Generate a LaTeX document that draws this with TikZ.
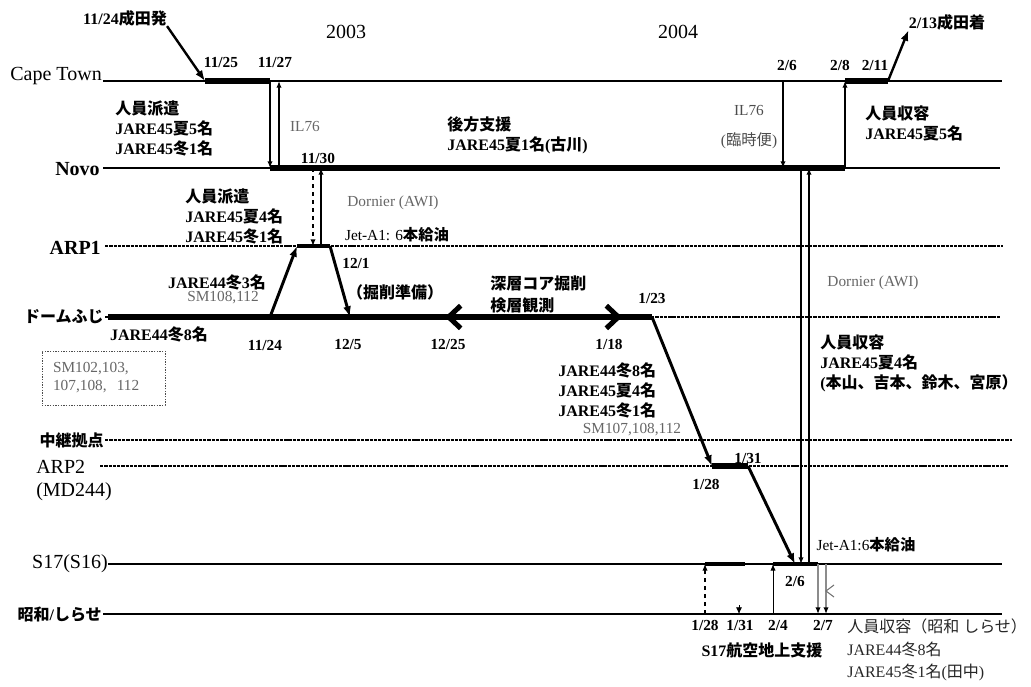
\documentclass[tikz,border=0pt]{standalone}
\usepackage{fontspec}
\setmainfont{Liberation Serif}
\newfontfamily\jpfont{Noto Sans CJK JP}
\usetikzlibrary{arrows.meta}
\XeTeXinterchartokenstate=1
\newXeTeXintercharclass\jpclass
\newcount\jpcc
\jpcc="3000
\loop\XeTeXcharclass\jpcc=\jpclass\advance\jpcc by 1\relax\ifnum\jpcc<"A000\repeat
\jpcc="FF00
\loop\XeTeXcharclass\jpcc=\jpclass\advance\jpcc by 1\relax\ifnum\jpcc<"FFF0\repeat
\jpcc=33
\loop\XeTeXcharclass\jpcc=0\advance\jpcc by 1\relax\ifnum\jpcc<127\repeat
\XeTeXinterchartoks 0 \jpclass = {\begingroup\jpfont}
\XeTeXinterchartoks 4095 \jpclass = {\begingroup\jpfont}
\XeTeXinterchartoks \jpclass 0 = {\endgroup}
\XeTeXinterchartoks \jpclass 4095 = {\endgroup}
\tikzset{
  tl/.style={line width=1.1pt},
  tld/.style={line width=0.8pt, dash pattern=on 2.5pt off 0.7pt},
  thk/.style={line width=3.8pt},
  seg/.style={line width=3pt},
  varr/.style={line width=1.1pt, -{Latex[length=5pt,width=4pt]}},
  darr/.style={line width=2.2pt, -{Latex[length=8pt,width=6pt]}},
  lbl/.style={font=\bfseries\fontsize{12}{15}\selectfont, inner sep=0pt, align=left},
  dt/.style={font=\bfseries\fontsize{11.5}{14}\selectfont, inner sep=0pt},
  gr/.style={font=\fontsize{11.5}{14}\selectfont, text=black!60, inner sep=0pt},
  sta/.style={font=\fontsize{15}{18}\selectfont, inner sep=0pt, anchor=east},
  stab/.style={font=\bfseries\fontsize{15}{18}\selectfont, inner sep=0pt, anchor=east},
  rg/.style={font=\fontsize{12}{17}\selectfont, inner sep=0pt, align=left},
}
\begin{document}
\begin{tikzpicture}[x=0.75pt,y=-0.75pt]
\useasboundingbox (0,0) rectangle (1031,686);
% timeline end points
\coordinate (ctL) at (103,81);  \coordinate (ctR) at (1002,81);
\coordinate (nvL) at (103,168); \coordinate (nvR) at (1000,168);
\coordinate (a1L) at (105,246); \coordinate (a1R) at (1003,246);
\coordinate (dfL) at (105,317); \coordinate (dfR) at (1000,317);
\coordinate (rlL) at (105,440); \coordinate (rlR) at (1012,440);
\coordinate (a2L) at (100,466); \coordinate (a2R) at (1008,466);
\coordinate (s17L) at (108,564); \coordinate (s17R) at (1002,564);
\coordinate (swL) at (103,614); \coordinate (swR) at (1002,614);
% events
\coordinate (ct1) at (205,81); \coordinate (ct2) at (270,81); \coordinate (ct3) at (279,81);
\coordinate (nv1) at (270,168); \coordinate (nv2) at (279,168);
\coordinate (nv3) at (313,168); \coordinate (nv4) at (321,168);
\coordinate (a1a) at (313,246); \coordinate (a1b) at (321,246);
\coordinate (df1) at (270,317); \coordinate (a1c) at (297,246);
\coordinate (a1d) at (330,246); \coordinate (df2) at (350,317);
\coordinate (df0) at (108,317); \coordinate (df3) at (445,317);
\coordinate (df4) at (622,317); \coordinate (df5) at (652,317);
\coordinate (a2a) at (712,466); \coordinate (a2b) at (748,466);
\coordinate (s1) at (795,564);
\coordinate (ct4) at (783,81); \coordinate (nv5) at (783,168);
\coordinate (nv6) at (845,168); \coordinate (ct5) at (845,81);
\coordinate (ct6) at (888,81);
\coordinate (nv7) at (801,168); \coordinate (s2) at (801,564);
\coordinate (nv8) at (809,168); \coordinate (s3) at (809,564);
\coordinate (s4) at (705,564); \coordinate (s5) at (745,564);
\coordinate (s6) at (773,564); \coordinate (s7) at (818,564); \coordinate (s8) at (826,564);
\coordinate (sw1) at (705,614); \coordinate (sw2) at (739,614); \coordinate (sw3) at (773,614);
\coordinate (sw4) at (818,614); \coordinate (sw5) at (826,614);
\coordinate (sw2t) at (739,605);
% timelines
\draw[tl] (ctL) -- (ctR);
\draw[tl] (nvL) -- (nvR);
\draw[tld] (a1L) -- (a1R);
\draw[tld] (dfL) -- (dfR);
\draw[tld] (rlL) -- (rlR);
\draw[tld] (a2L) -- (a2R);
\draw[tl] (s17L) -- (s17R);
\draw[tl] (swL) -- (swR);
% station labels
\node[sta, anchor=base east] (lct) at (102,80) {Cape Town};
\node[stab] (lnv) at (100,169) {Novo};
\node[stab] (la1) at (101,248) {ARP1};
\node[lbl, anchor=east] (ldf) at (104,317) {ドームふじ};
\node[lbl, anchor=east] (lrl) at (104,440) {中継拠点};
\node[sta, anchor=west] (la2) at (36,467) {ARP2};
\node[sta, anchor=west] (lmd) at (36,492) {(MD244)};
\node[sta] (ls17) at (108,564) {S17(S16)};
\node[lbl, anchor=east] (lsw) at (102,614) {昭和/しらせ};
% years
\node[font=\fontsize{15}{18}\selectfont, inner sep=0pt] (y03) at (346,32) {2003};
\node[font=\fontsize{15}{18}\selectfont, inner sep=0pt] (y04) at (678,32) {2004};
% thick segments
\draw[thk] (ct1) -- (ct2);
\draw[thk] (ct5) -- (ct6);
\draw[thk] (nv1) -- (nv6);
\draw[thk] (df0) -- (df5);
\draw[seg] (a1c) -- (a1d);
\draw[thk] (a2a) -- (a2b);
\draw[seg] (s4) -- (s5);
\draw[seg] (s6) -- (s7);
\draw[thk, {Straight Barb[length=9pt,width=17pt]}-{Straight Barb[length=9pt,width=17pt]}] (df3) -- (df4);
% texts
\node[lbl] (dep) at (125,18) {11/24成田発};
\node[lbl] (arrv) at (947,22) {2/13成田着};
\node[dt] (d1125) at (221,62) {11/25};
\node[dt] (d1127) at (275,62) {11/27};
\node[dt] (d26a) at (787,65) {2/6};
\node[dt] (d28) at (840,65) {2/8};
\node[dt] (d211) at (875,65) {2/11};
\node[lbl, anchor=west] (t1) at (115,128) {人員派遣\\JARE45夏5名\\JARE45冬1名};
\node[gr] (il1) at (305,126) {IL76};
\node[dt] (d1130) at (318,158) {11/30};
\node[lbl, anchor=west] (t2) at (447,135) {後方支援\\JARE45夏1名(古川)};
\node[gr, align=center, font=\fontsize{11.5}{22}\selectfont, text=black!70] (il2) at (749,127) {IL76\\(臨時便)};
\node[lbl, anchor=west] (t3) at (865,123) {人員収容\\JARE45夏5名};
\node[lbl, anchor=west] (t4) at (185,216) {人員派遣\\JARE45夏4名\\JARE45冬1名};
\node[gr] (dor1) at (393,203) {Dornier (AWI)};
\node[font=\fontsize{11.5}{14}\selectfont, inner sep=0pt] (jet1) at (397,235) {Jet-A1: 6\textbf{本給油}};
\node[lbl] (t5) at (217,282) {JARE44冬3名};
\node[gr] (sm1) at (223,298) {SM108,112};
\node[lbl] (t6) at (159,334) {JARE44冬8名};
\node[dt] (d1124) at (265,345) {11/24};
\node[dt] (d125) at (348,344) {12/5};
\node[dt] (d1225) at (448,344) {12/25};
\node[dt] (d118) at (609,344) {1/18};
\node[dt] (d121) at (356,263) {12/1};
\node[lbl] (t7) at (395,292) {（掘削準備）};
\node[lbl, anchor=west, font=\bfseries\fontsize{12}{16.5}\selectfont] (t8) at (490,294) {深層コア掘削\\検層観測};
\node[dt] (d123) at (652,298) {1/23};
\node[gr, draw=black!70, dash pattern=on 1pt off 1pt, line width=0.6pt, align=left,
      text width=75.75pt, inner xsep=8.25pt, minimum height=40.5pt, font=\fontsize{11.5}{13.5}\selectfont] (box) at (103.5,378) {SM102,103,\\107,108,\ \ 112};
\node[lbl, anchor=west] (t9) at (558,390) {JARE44冬8名\\JARE45夏4名\\JARE45冬1名};
\node[gr] (sm2) at (632,430) {SM107,108,112};
\node[dt] (d128a) at (706,484) {1/28};
\node[dt] (d131a) at (748,458) {1/31};
\node[font=\fontsize{11.5}{14}\selectfont, inner sep=0pt] (jet2) at (866,545) {Jet-A1:6\textbf{本給油}};
\node[gr] (dor2) at (873,283) {Dornier (AWI)};
\node[lbl, anchor=west] (t10) at (820,363) {人員収容\\JARE45夏4名\\(本山、吉本、鈴木、宮原）};
\node[dt] (d26b) at (795,581) {2/6};
\node[dt] (b128) at (705,625) {1/28};
\node[dt] (b131) at (740,625) {1/31};
\node[dt] (b24) at (778,625) {2/4};
\node[dt] (b27) at (823,625) {2/7};
\node[lbl] (t11) at (762,650) {S17航空地上支援};
\node[rg, anchor=west, text=black!85] (t12) at (847,650) {人員収容（昭和 しらせ）\\JARE44冬8名\\JARE45冬1名(田中)};
% diagonal arrows
\draw[darr, line width=1.8pt] (dep.south east) -- (ct1);
\draw[darr, line width=1.8pt] (ct6) -- (arrv.south west);
\draw[darr] (df1) -- (a1c);
\draw[darr] (a1d) -- (df2);
\draw[darr] (df5) -- (a2a);
\draw[darr] (a2b) -- (s1);
% vertical arrows
\draw[varr] (ct2) -- (nv1);
\draw[varr] (nv2) -- (ct3);
\draw[varr, dashed] (nv3) -- (a1a);
\draw[varr] (a1b) -- (nv4);
\draw[varr] (ct4) -- (nv5);
\draw[varr] (nv6) -- (ct5);
\draw[varr] (nv7) -- (s2);
\draw[varr] (s3) -- (nv8);
\draw[varr, dashed, line width=0.8pt] (sw1) -- (s4);
\draw[varr, line width=0.7pt] (sw3) -- (s6);
\draw[black!45, line width=1.1pt, -{Latex[length=5pt,width=4pt,color=black]}] (s7) -- (sw4);
\draw[black!45, line width=1.1pt, -{Latex[length=5pt,width=4pt,color=black]}] (s8) -- (sw5);
\draw[line width=0.5pt, -{Latex[length=5pt,width=4.5pt]}] (sw2t) -- (sw2);
\draw[black!55, line width=0.8pt] (834,585) -- (826,591) -- (834,597);
\end{tikzpicture}
\end{document}
